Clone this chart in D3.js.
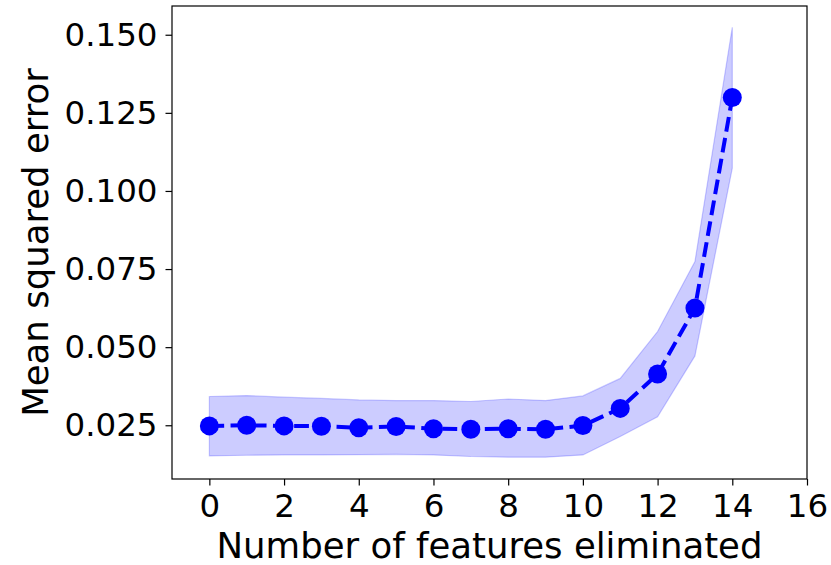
<!DOCTYPE html>
<html>
<head>
<meta charset="utf-8">
<script src="https://cdn.jsdelivr.net/npm/d3@7"></script>
<style>
  html, body { margin: 0; padding: 0; background: #fff; }
  svg text { font-family: "DejaVu Sans", sans-serif; fill: #000; }
</style>
</head>
<body>
<svg id="chart" width="831" height="565"></svg>
<script>
// Number of features eliminated
const featuresEliminated = [0, 1, 2, 3, 4, 5, 6, 7, 8, 9, 10, 11, 12, 13, 14];
// Mean squared error (mean over folds)
const mseMean = [0.0248, 0.0250, 0.0248, 0.0247, 0.0242, 0.0246, 0.0239, 0.0237, 0.0239, 0.0237, 0.0249, 0.0304, 0.0414, 0.0625, 0.1299];
// Spread band (upper / lower)
const mseUpper = [0.0342, 0.0345, 0.0340, 0.0336, 0.0331, 0.0329, 0.0329, 0.0326, 0.0334, 0.0329, 0.0344, 0.0400, 0.0550, 0.0774, 0.1524];
const mseLower = [0.0152, 0.0154, 0.0155, 0.0155, 0.0156, 0.0157, 0.0155, 0.0150, 0.0148, 0.0148, 0.0155, 0.0214, 0.0277, 0.0472, 0.1073];
// Tick labels
const xTicks = [0, 2, 4, 6, 8, 10, 12, 14, 16];
const yTicks = [0.025, 0.050, 0.075, 0.100, 0.125, 0.150];

const svg = d3.select("#chart");
const m = { left: 172, right: 807, top: 6, bottom: 479 };

const x = d3.scaleLinear().domain([-1, 16]).range([m.left, m.right]);
const y = d3.scaleLinear().domain([0.0078, 0.1592]).range([m.bottom, m.top]);

const plot = svg.append("g");

// shaded band
const band = d3.area()
  .x((d, i) => x(featuresEliminated[i]))
  .y0((d, i) => y(mseLower[i]))
  .y1((d, i) => y(mseUpper[i]));
plot.append("path")
  .datum(mseMean)
  .attr("d", band)
  .attr("fill", "rgba(0,0,255,0.2)")
  .attr("stroke", "rgba(0,0,255,0.2)")
  .attr("stroke-width", 1.2);

// dashed mean line
const line = d3.line()
  .x((d, i) => x(featuresEliminated[i]))
  .y(d => y(d));
plot.append("path")
  .datum(mseMean)
  .attr("d", line)
  .attr("fill", "none")
  .attr("stroke", "#0000ff")
  .attr("stroke-width", 4)
  .attr("stroke-dasharray", "14.8,6.4");

// markers
plot.selectAll("circle")
  .data(mseMean)
  .join("circle")
  .attr("cx", (d, i) => x(featuresEliminated[i]))
  .attr("cy", d => y(d))
  .attr("r", 9.5)
  .attr("fill", "#0000ff");

// axes
const xAxis = d3.axisBottom(x).tickValues(xTicks).tickSize(6.5).tickPadding(8)
  .tickFormat(d3.format("d"));
const yAxis = d3.axisLeft(y).tickValues(yTicks).tickSize(6.5).tickPadding(8)
  .tickFormat(d3.format(".3f"));

const gx = svg.append("g").attr("transform", `translate(0,${m.bottom})`).call(xAxis);
const gy = svg.append("g").attr("transform", `translate(${m.left},0)`).call(yAxis);
[gx, gy].forEach(g => {
  g.select(".domain").remove();
  g.selectAll(".tick line").attr("stroke", "#000").attr("stroke-width", 1.2);
  g.selectAll(".tick text").attr("font-size", 32.5).attr("font-family", "DejaVu Sans");
});

// frame
svg.append("rect")
  .attr("x", m.left).attr("y", m.top)
  .attr("width", m.right - m.left).attr("height", m.bottom - m.top)
  .attr("fill", "none").attr("stroke", "#000").attr("stroke-width", 1.2);

// axis titles
svg.append("text")
  .attr("x", (m.left + m.right) / 2).attr("y", 558)
  .attr("text-anchor", "middle").attr("font-size", 35.5)
  .text("Number of features eliminated");
svg.append("text")
  .attr("transform", `translate(48,${(m.top + m.bottom) / 2}) rotate(-90)`)
  .attr("text-anchor", "middle").attr("font-size", 35.5)
  .text("Mean squared error");
</script>
</body>
</html>
